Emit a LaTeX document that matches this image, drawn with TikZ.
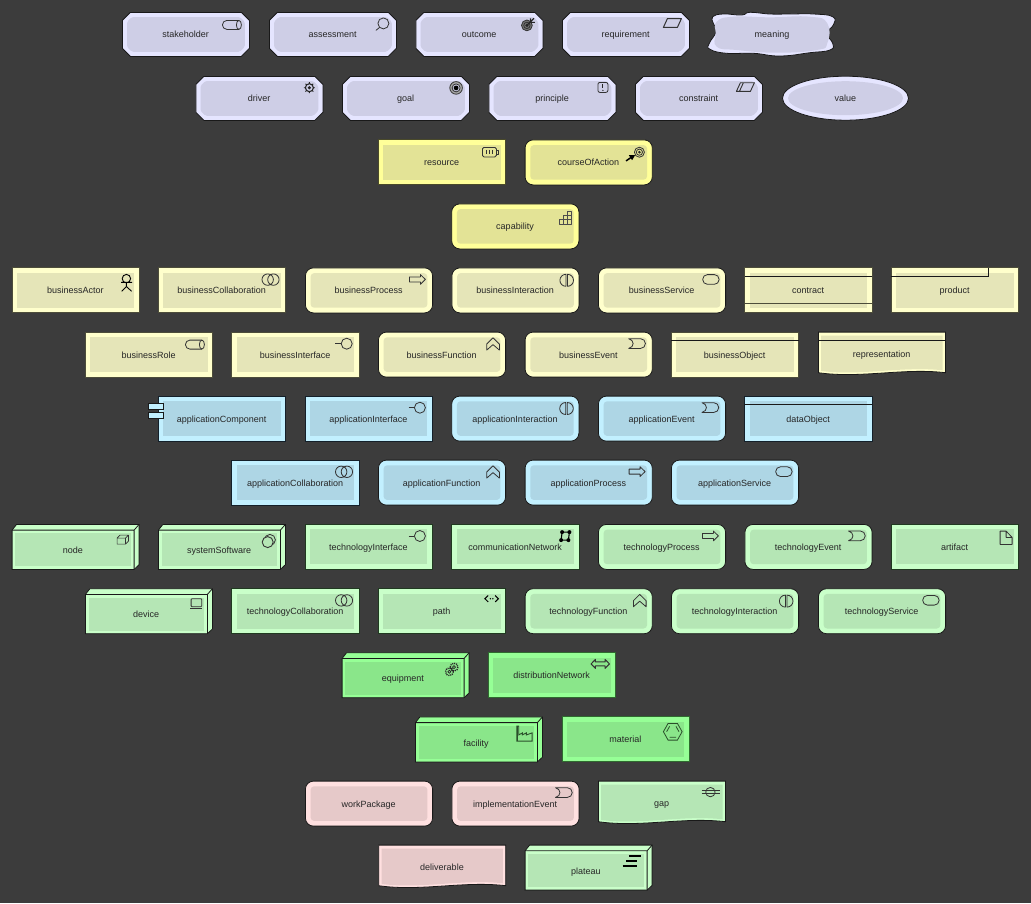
\documentclass[tikz,border=0pt]{standalone}
\usepackage{fontspec}
\setmainfont{Liberation Sans}
\definecolor{bgc}{HTML}{3C3C3C}
\definecolor{motO}{HTML}{E5E5FF}\definecolor{motI}{HTML}{CECEE6}\definecolor{motR}{HTML}{111111}
\definecolor{strO}{HTML}{FFFF99}\definecolor{strI}{HTML}{E3E396}\definecolor{strR}{HTML}{4A4A2A}
\definecolor{busO}{HTML}{FFFFCC}\definecolor{busI}{HTML}{E5E5B8}\definecolor{busR}{HTML}{4D4D3A}
\definecolor{appO}{HTML}{C2F0FF}\definecolor{appI}{HTML}{AED6E5}\definecolor{appR}{HTML}{14202A}
\definecolor{tecO}{HTML}{C9FFC9}\definecolor{tecI}{HTML}{B5E6B5}\definecolor{tecR}{HTML}{203A20}
\definecolor{phyO}{HTML}{96FF96}\definecolor{phyI}{HTML}{8AE68A}\definecolor{phyR}{HTML}{2F6A2F}
\definecolor{impO}{HTML}{FFE0E0}\definecolor{impI}{HTML}{E6C9C9}\definecolor{impR}{HTML}{222222}
\definecolor{icgreen}{HTML}{2A4F2A}
\tikzset{
  lbl/.style={anchor=base,inner sep=0pt,text=black!85,font=\fontsize{9}{11}\selectfont},
  outr/.style={fill=outc,draw=black!90,line width=.8pt},
  outrect/.style={fill=outc,draw=rectc,line width=.9pt},
  inr/.style={fill=inc,draw=none},
  ic/.style={draw=black!80,line width=.8pt,line join=round},
  icf/.style={ic,fill=black!80},
  blk/.style={draw=black!90,line width=.8pt}
}
% bodies
\newcommand{\bOct}{\def\lx{63.2}\def\ly{24.4}
  \path[outr] (8,0)--(119,0)--(127,8)--(127,36)--(119,44)--(8,44)--(0,36)--(0,8)--cycle;
  \path[inr,rounded corners=1.5pt] (9.5,4.6)--(117.5,4.6)--(122.4,9.5)--(122.4,34.5)--(117.5,39.4)--(9.5,39.4)--(4.6,34.5)--(4.6,9.5)--cycle;}
\newcommand{\bRect}{\def\lx{63.3}\def\ly{25.2}
  \path[outrect] (0,0) rectangle (127.2,45);
  \path[inr] (5,5) rectangle (122.2,40);}
\newcommand{\bRound}{\def\lx{63.3}\def\ly{25.2}
  \path[outr,rounded corners=8pt] (0,0) rectangle (127.2,45);
  \path[inr,rounded corners=3.5pt] (5.2,5.2) rectangle (122,39.8);}
\newcommand{\bObj}{\bRect\draw[blk] (0,8.6)--(127.2,8.6);}
\newcommand{\bContract}{\bRect\draw[blk] (0,8.6)--(127.2,8.6);\draw[rectc,line width=.9pt] (0,35.6)--(127.2,35.6);}
\newcommand{\bProduct}{\bRect\draw[blk] (0,8.6)--(96.9,8.6)--(96.9,0);}
\newcommand{\bDoc}{\def\lx{63.3}\def\ly{24.8}
  \path[outr] (0,0)--(127,0)--(127,40.6) .. controls (85,35.6) and (42,46.6) .. (0,40.6) -- cycle;
  \path[inr] (2.8,3.6)--(124.2,3.6)--(124.2,38.2) .. controls (85,33.6) and (42,44.2) .. (2.8,38.8) -- cycle;}
\newcommand{\bRepr}{\bDoc\draw[blk] (0,8.6)--(127,8.6);}
\newcommand{\bComp}{\bRect
  \path[outr] (-9.7,7.3) rectangle (4.7,13.3);
  \path[outr] (-9.7,16.3) rectangle (4.7,22.6);}
\newcommand{\bBox}{\def\lx{60.8}\def\ly{28.3}
  \path[outr] (0,5.7)--(4.5,0)--(127,0)--(127,40.3)--(122,45)--(0,45)--cycle;
  \draw[blk] (0,5.7)--(122,5.7)--(122,45) (122,5.7)--(127,0);
  \path[inr] (3.2,8.9) rectangle (118.8,41.8);}
% icons
\newcommand{\iRole}{\draw[ic] (104.5,8) -- (116.5,8) arc (-90:90:2.5 and 4.5) -- (104.5,17) arc (90:270:4.5) -- cycle;
  \draw[ic] (116.5,8) arc (-90:-270:2.5 and 4.5);}
\newcommand{\iAssess}{\draw[ic] (114,11) circle[radius=5.5];\draw[ic] (110.2,15)--(106.5,18);}
\newcommand{\iOutcome}{\draw[ic,fill=black!55] (111,13) circle[radius=5.4];\draw[ic] (111,13) circle[radius=3.2];\fill[black!85] (111,13) circle[radius=1.7];
  \draw[black!85,line width=1.3pt] (111,13)--(118,6);\draw[black!85,line width=1.1pt] (114.5,6)--(115,10)--(119,10);}
\newcommand{\iReq}{\draw[ic,line width=1pt] (105,6.2)--(119,6.2)--(115,15)--(101,15)--cycle;}
\newcommand{\iCons}{\draw[ic,line width=.9pt] (105,6.3)--(119,6.3)--(115,15)--(101,15)--cycle (108,6.3)--(104,15);}
\newcommand{\iDriver}{\draw[black!85,line width=.9pt] (108,11.3)--(119,11.3) (113.5,5.8)--(113.5,16.8) (109.6,7.4)--(117.4,15.2) (117.4,7.4)--(109.6,15.2);
  \draw[black!85,line width=1.1pt,fill=inc] (113.5,11.3) circle[radius=4];\fill[black!85] (113.5,11.3) circle[radius=1.7];}
\newcommand{\iGoal}{\draw[ic,fill=black!35] (113.7,11.5) circle[radius=6.3];\draw[ic,fill=inc] (113.7,11.5) circle[radius=4];\fill[black] (113.7,11.5) circle[radius=2.4];}
\newcommand{\iPrinc}{\draw[ic,rounded corners=2pt] (109,6) rectangle (119,16);\draw[black!85,line width=1.1pt] (114,7.8)--(114,12);\fill[black!85] (114,14) circle[radius=.7];}
\newcommand{\iRes}{\draw[ic,rounded corners=1.5pt] (104,7.5) rectangle (118,17);\draw[ic] (118,10.5)--(120,10.5)--(120,14)--(118,14);
  \draw[ic] (107.5,10)--(107.5,14.5) (110.7,10)--(110.7,14.5) (113.9,10)--(113.9,14.5);}
\newcommand{\iCourse}{\draw[ic] (114.3,12.3) circle[radius=5];\draw[ic] (114.3,12.3) circle[radius=3.1];\fill[black!85] (114.3,12.3) circle[radius=1.4];
  \draw[black,line width=1.5pt] (101,21)--(106,17.5);\fill[black] (103.7,15.2)--(110,15.2)--(107,20.3)--cycle;}
\newcommand{\iCap}{\draw[ic,line width=.7pt,draw=black!70] (107.4,20)--(120,20)--(120,7.4)--(115.8,7.4)--(115.8,11.6)--(111.6,11.6)--(111.6,15.8)--(107.4,15.8)--cycle
  (111.6,15.8)--(120,15.8) (115.8,11.6)--(120,11.6) (111.6,15.8)--(111.6,20) (115.8,11.6)--(115.8,20);}
\newcommand{\iActor}{\draw[black,line width=.9pt] (114.3,10.7) circle[radius=4.2] (114.3,14.9)--(114.3,18.6) (109,14.4)--(120,14.4) (114.3,18.6)--(109.5,23.4) (114.3,18.6)--(119.5,23.4);}
\newcommand{\iCollab}{\draw[ic] (109.3,11.7) circle[radius=5.7] (115,11.7) circle[radius=5.7];}
\newcommand{\iProc}{\draw[ic] (104,9)--(115,9)--(115,6.7)--(120,11.5)--(115,16.4)--(115,14)--(104,14)--cycle;}
\newcommand{\iInter}{\draw[ic] (114,6.4) arc (-90:-270:6) -- cycle;\draw[ic] (115.6,6.4) arc (-90:90:6) -- cycle;}
\newcommand{\iServ}{\draw[ic,rounded corners=4.7pt] (104.3,6.7) rectangle (120.7,16.4);}
\newcommand{\iIntf}{\draw[ic] (114.8,11.6) circle[radius=5.5];\draw[ic] (103.5,11.6)--(109.3,11.6);}
\newcommand{\iFunc}{\draw[ic] (108.3,12)--(114.6,5.7)--(121,12)--(121,18)--(114.6,12.5)--(108.3,18)--cycle;}
\newcommand{\iEvent}{\draw[ic] (103.6,6.6)--(115.5,6.6) arc (-90:90:4.85) -- (103.6,16.3) .. controls (109.5,15) and (109.5,8) .. (103.6,6.6) -- cycle;}
\newcommand{\iNode}{\draw[ic,line width=.7pt] (105,13.7) rectangle (113.3,19.7) (105,13.7)--(108,10.7)--(116.3,10.7)--(113.3,13.7) (116.3,10.7)--(116.3,16.7)--(113.3,19.7);}
\newcommand{\iSoft}{\draw[ic] (111.5,15.5) circle[radius=5.5];\draw[ic,line width=.9pt,fill=inc] (109.3,17.7) circle[radius=5.5];}
\newcommand{\iComm}{\draw[black,line width=1.1pt] (110.2,7.7)--(117.5,7.7)--(116.5,15.7)--(109.2,15.7)--cycle;
  \fill[black] (110.2,7.7) circle[radius=2] (117.5,7.7) circle[radius=2] (116.5,15.7) circle[radius=2] (109.2,15.7) circle[radius=2];}
\newcommand{\iArt}{\draw[ic] (108.7,6.7)--(114.7,6.7)--(120.7,13)--(120.7,20)--(108.7,20)--cycle (114.7,6.7)--(114.7,13)--(120.7,13);}
\newcommand{\iDev}{\draw[ic,rounded corners=.8pt] (105.7,10) rectangle (116.3,18);\draw[ic] (104.7,19.8)--(117,19.8);}
\newcommand{\iPath}{\draw[black,line width=1pt] (109.8,6.8)--(106.5,10)--(109.8,13.2) (116.8,6.8)--(120,10)--(116.8,13.2);\fill[black] (112,10) circle[radius=.8] (114.5,10) circle[radius=.8];}
\newcommand{\iEquip}{\begin{scope}[black!85]
  \draw[line width=1.4pt,dash pattern=on 1pt off 1pt] (112,14.4) circle[radius=3.9] (107.3,19) circle[radius=3.9];
  \draw[line width=.7pt] (112,14.4) circle[radius=1.5] (107.3,19) circle[radius=1.5];\end{scope}}
\newcommand{\iDist}{\draw[ic,line width=1pt] (102.7,11.2)--(107,6.7)--(107,9.2)--(116.7,9.2)--(116.7,6.7)--(121,11.2)--(116.7,15.7)--(116.7,13.2)--(107,13.2)--(107,15.7)--cycle;}
\newcommand{\iFac}{\draw[icgreen,line width=.9pt,line join=miter] (101.3,9.2)--(103.3,9.2)--(103.3,18)--(107,16)--(107,18)--(111,16)--(111,18)--(116.7,16)--(116.7,24.2)--(101.3,24.2)--cycle;
  \draw[icgreen,line width=1.4pt] (102.2,9.2)--(102.2,24);}
\newcommand{\iMat}{\draw[icgreen,line width=.8pt] (101.3,14.8)--(106,6.5)--(115.3,6.5)--(120,14.8)--(115.3,23.2)--(106,23.2)--cycle
  (104.5,14.8)--(107.5,9.5) (116.9,14.8)--(113.9,9.5) (107.5,20.3)--(113.9,20.3);}
\newcommand{\iGap}{\draw[ic] (112,11) circle[radius=4.7];\draw[ic] (103.3,9.5)--(121.3,9.5) (103.3,12.5)--(121.3,12.5);}
\newcommand{\iPlat}{\draw[black,line width=2pt] (104.3,11)--(116,11) (101,16)--(112.3,16) (97.6,21)--(112,21);}
\newcommand{\iNone}{}
% element: name, x, y, body, palette, icon, label
\newcommand{\el}[7]{\begin{scope}[shift={(#2-.6,#3-.6)}]
  \colorlet{outc}{#5O}\colorlet{inc}{#5I}\colorlet{rectc}{#5R}
  #4 #6
  \node[lbl] (#1) at (\lx,\ly+.8) {#7};
\end{scope}}
\begin{document}
\begin{tikzpicture}[x=1pt,y=-1pt]
\fill[bgc] (0,0) rectangle (1031,903);
\useasboundingbox (0,0) rectangle (1031,903);
% motivation
\el{stakeholder}{123}{13}{\bOct}{mot}{\iRole}{stakeholder}
\el{assessment}{270}{13}{\bOct}{mot}{\iAssess}{assessment}
\el{outcome}{416.5}{13}{\bOct}{mot}{\iOutcome}{outcome}
\el{requirement}{563}{13}{\bOct}{mot}{\iReq}{requirement}
\path[fill=motO,draw=black!90,line width=.8pt] plot[smooth cycle,tension=.8] coordinates {(712.7,16.7)(723.3,14)(741.7,15)(750,12.3)(770,14)(790,14)(813.3,14)(832.7,16.7)(833.3,25)(826.7,33.3)(832.7,43.3)(830,50)(810,52.7)(780,56)(753.3,53.3)(726.7,53.3)(710,49.3)(709.3,43.3)(716,31.7)(713.3,23.3)};
\path[fill=motI] plot[smooth cycle,tension=.8] coordinates {(716.7,21.7)(733.3,16.7)(770,17.3)(810,16.7)(827.3,23.3)(827.3,43.3)(816.7,50)(776.7,52.7)(736.7,50)(716.7,46.7)(715.7,33.3)};
\node[lbl] (meaning) at (772,37) {meaning};
\el{driver}{196.5}{77}{\bOct}{mot}{\iDriver}{driver}
\el{goal}{343}{77}{\bOct}{mot}{\iGoal}{goal}
\el{principle}{489.5}{77}{\bOct}{mot}{\iPrinc}{principle}
\el{constraint}{636}{77}{\bOct}{mot}{\iCons}{constraint}
\path[fill=motO,draw=black!90,line width=.8pt] (845.5,98.2) ellipse[x radius=63,y radius=22];
\path[fill=motI] (845.5,98.2) ellipse[x radius=57.5,y radius=17];
\node[lbl] (value) at (845.3,101) {value};
% strategy
\el{resource}{379}{140.5}{\bRect}{str}{\iRes}{resource}
\el{courseOfAction}{525.7}{140.5}{\bRound}{str}{\iCourse}{courseOfAction}
\el{capability}{452.3}{204.5}{\bRound}{str}{\iCap}{capability}
% business
\el{businessActor}{12.7}{268.5}{\bRect}{bus}{\iActor}{businessActor}
\el{businessCollaboration}{159}{268.5}{\bRect}{bus}{\iCollab}{businessCollaboration}
\el{businessProcess}{306}{268.5}{\bRound}{bus}{\iProc}{businessProcess}
\el{businessInteraction}{452.5}{268.5}{\bRound}{bus}{\iInter}{businessInteraction}
\el{businessService}{599}{268.5}{\bRound}{bus}{\iServ}{businessService}
\el{contract}{745.5}{268.5}{\bContract}{bus}{\iNone}{contract}
\el{product}{892}{268.5}{\bProduct}{bus}{\iNone}{product}
\el{businessRole}{86}{332.7}{\bRect}{bus}{\iRole}{businessRole}
\el{businessInterface}{232.5}{332.7}{\bRect}{bus}{\iIntf}{businessInterface}
\el{businessFunction}{379}{332.7}{\bRound}{bus}{\iFunc}{businessFunction}
\el{businessEvent}{525.7}{332.7}{\bRound}{bus}{\iEvent}{businessEvent}
\el{businessObject}{672}{332.7}{\bObj}{bus}{\iNone}{businessObject}
\el{representation}{819}{332.7}{\bRepr}{bus}{\iNone}{representation}
% application
\el{applicationComponent}{159}{396.7}{\bComp}{app}{\iNone}{applicationComponent}
\el{applicationInterface}{305.7}{396.7}{\bRect}{app}{\iIntf}{applicationInterface}
\el{applicationInteraction}{452.3}{396.7}{\bRound}{app}{\iInter}{applicationInteraction}
\el{applicationEvent}{599}{396.7}{\bRound}{app}{\iEvent}{applicationEvent}
\el{dataObject}{745.5}{396.7}{\bObj}{app}{\iNone}{dataObject}
\el{applicationCollaboration}{232.5}{460.7}{\bRect}{app}{\iCollab}{applicationCollaboration}
\el{applicationFunction}{379}{460.7}{\bRound}{app}{\iFunc}{applicationFunction}
\el{applicationProcess}{525.7}{460.7}{\bRound}{app}{\iProc}{applicationProcess}
\el{applicationService}{672}{460.7}{\bRound}{app}{\iServ}{applicationService}
% technology
\el{node}{12.7}{525}{\bBox}{tec}{\iNode}{node}
\el{systemSoftware}{159}{525}{\bBox}{tec}{\iSoft}{systemSoftware}
\el{technologyInterface}{305.7}{525}{\bRect}{tec}{\iIntf}{technologyInterface}
\el{communicationNetwork}{452.5}{525}{\bRect}{tec}{\iComm}{communicationNetwork}
\el{technologyProcess}{599}{525}{\bRound}{tec}{\iProc}{technologyProcess}
\el{technologyEvent}{745.5}{525}{\bRound}{tec}{\iEvent}{technologyEvent}
\el{artifact}{892}{525}{\bRect}{tec}{\iArt}{artifact}
\el{device}{86}{589.3}{\bBox}{tec}{\iDev}{device}
\el{technologyCollaboration}{232.5}{589.3}{\bRect}{tec}{\iCollab}{technologyCollaboration}
\el{path}{379}{589.3}{\bRect}{tec}{\iPath}{path}
\el{technologyFunction}{525.7}{589.3}{\bRound}{tec}{\iFunc}{technologyFunction}
\el{technologyInteraction}{672}{589.3}{\bRound}{tec}{\iInter}{technologyInteraction}
\el{technologyService}{819}{589.3}{\bRound}{tec}{\iServ}{technologyService}
% physical
\el{equipment}{342.7}{653.3}{\bBox}{phy}{\iEquip}{equipment}
\el{distributionNetwork}{489}{653.3}{\bRect}{phy}{\iDist}{distributionNetwork}
\el{facility}{416}{717.5}{\bBox}{phy}{\iFac}{facility}
\el{material}{562.7}{717.5}{\bRect}{phy}{\iMat}{material}
% implementation
\el{workPackage}{306}{781.7}{\bRound}{imp}{\iNone}{workPackage}
\el{implementationEvent}{452.5}{781.7}{\bRound}{imp}{\iEvent}{implementationEvent}
\el{gap}{599}{781.7}{\bDoc}{tec}{\iGap}{gap}
\el{deliverable}{379.3}{845.7}{\bDoc}{imp}{\iNone}{deliverable}
\el{plateau}{525.7}{845.7}{\bBox}{tec}{\iPlat}{plateau}
\end{tikzpicture}
\end{document}
